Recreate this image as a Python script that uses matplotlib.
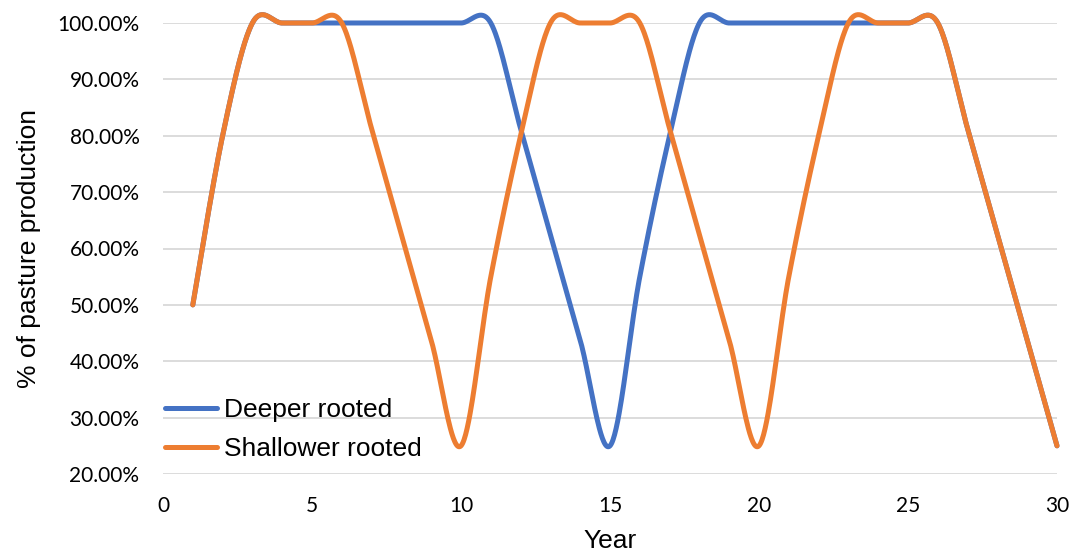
import numpy as np
import matplotlib
matplotlib.use("Agg")
import matplotlib.pyplot as plt
from matplotlib.ticker import FuncFormatter

years = list(range(1, 31))
deeper = [50, 80, 100, 100, 100, 100, 100, 100, 100, 100,
          100, 81.25, 62.5, 43.75, 25, 55, 80, 100, 100, 100,
          100, 100, 100, 100, 100, 100, 81.25, 62.5, 43.75, 25]
shallower = [50, 80, 100, 100, 100, 100, 81.25, 62.5, 43.75, 25,
             55, 80, 100, 100, 100, 100, 81.25, 62.5, 43.75, 25,
             55, 80, 100, 100, 100, 100, 81.25, 62.5, 43.75, 25]
series_names = ["Deeper rooted", "Shallower rooted"]
colors = ["#4472C4", "#ED7D31"]


def smooth(xs, ys, n=40):
    xs = np.asarray(xs, float)
    ys = np.asarray(ys, float)
    px = np.concatenate([[xs[0]], xs, [xs[-1]]])
    py = np.concatenate([[ys[0]], ys, [ys[-1]]])
    outx, outy = [], []
    t = np.linspace(0, 1, n)
    for i in range(1, len(px) - 2):
        p0 = np.array([px[i], py[i]])
        p3 = np.array([px[i + 1], py[i + 1]])
        c1 = p0 + (np.array([px[i + 1], py[i + 1]]) - np.array([px[i - 1], py[i - 1]])) / 6
        c2 = p3 - (np.array([px[i + 2], py[i + 2]]) - np.array([px[i], py[i]])) / 6
        b = ((1 - t) ** 3)[:, None] * p0 + (3 * (1 - t) ** 2 * t)[:, None] * c1 \
            + (3 * (1 - t) * t ** 2)[:, None] * c2 + (t ** 3)[:, None] * p3
        outx.extend(b[:, 0])
        outy.extend(b[:, 1])
    return np.array(outx), np.array(outy)


fig = plt.figure(figsize=(10.70, 5.51), dpi=100)
ax = fig.add_axes([163 / 1070, 1 - 474 / 551, (1057 - 163) / 1070, (474 - 23) / 551])

for name, vals, c in zip(series_names, [deeper, shallower], colors):
    sx, sy = smooth(years, vals)
    ax.plot(sx, sy, color=c, lw=3.6, label=name, clip_on=False,
            solid_capstyle="round", solid_joinstyle="round", zorder=3)

ax.set_xlim(0, 30)
ax.set_ylim(20, 100)
ax.set_xticks(range(0, 31, 5))
ax.set_yticks(range(20, 101, 10))
ax.yaxis.set_major_formatter(FuncFormatter(lambda v, p: f"{v:.2f}%"))
ax.grid(axis="y", color="#D9D9D9", lw=1.3)
ax.set_axisbelow(True)
for s in ax.spines.values():
    s.set_visible(False)
ax.tick_params(axis="y", length=0, labelsize=15, pad=17)
ax.tick_params(axis="x", length=0, labelsize=15, pad=16)
for lab in ax.get_xticklabels() + ax.get_yticklabels():
    lab.set_fontfamily("Lato")

ax.set_xlabel("Year", fontsize=19, fontfamily="Liberation Sans", labelpad=9)
ax.set_ylabel("% of pasture production", fontsize=19, fontfamily="Liberation Sans", labelpad=12)

leg = ax.legend(loc="lower left", bbox_to_anchor=(-0.013, 0.0), frameon=False,
                prop={"family": "Liberation Sans", "size": 19},
                handlelength=2.0, handletextpad=0.25, labelspacing=0.55,
                borderaxespad=0.1)

fig.savefig("out.png", dpi=100)
